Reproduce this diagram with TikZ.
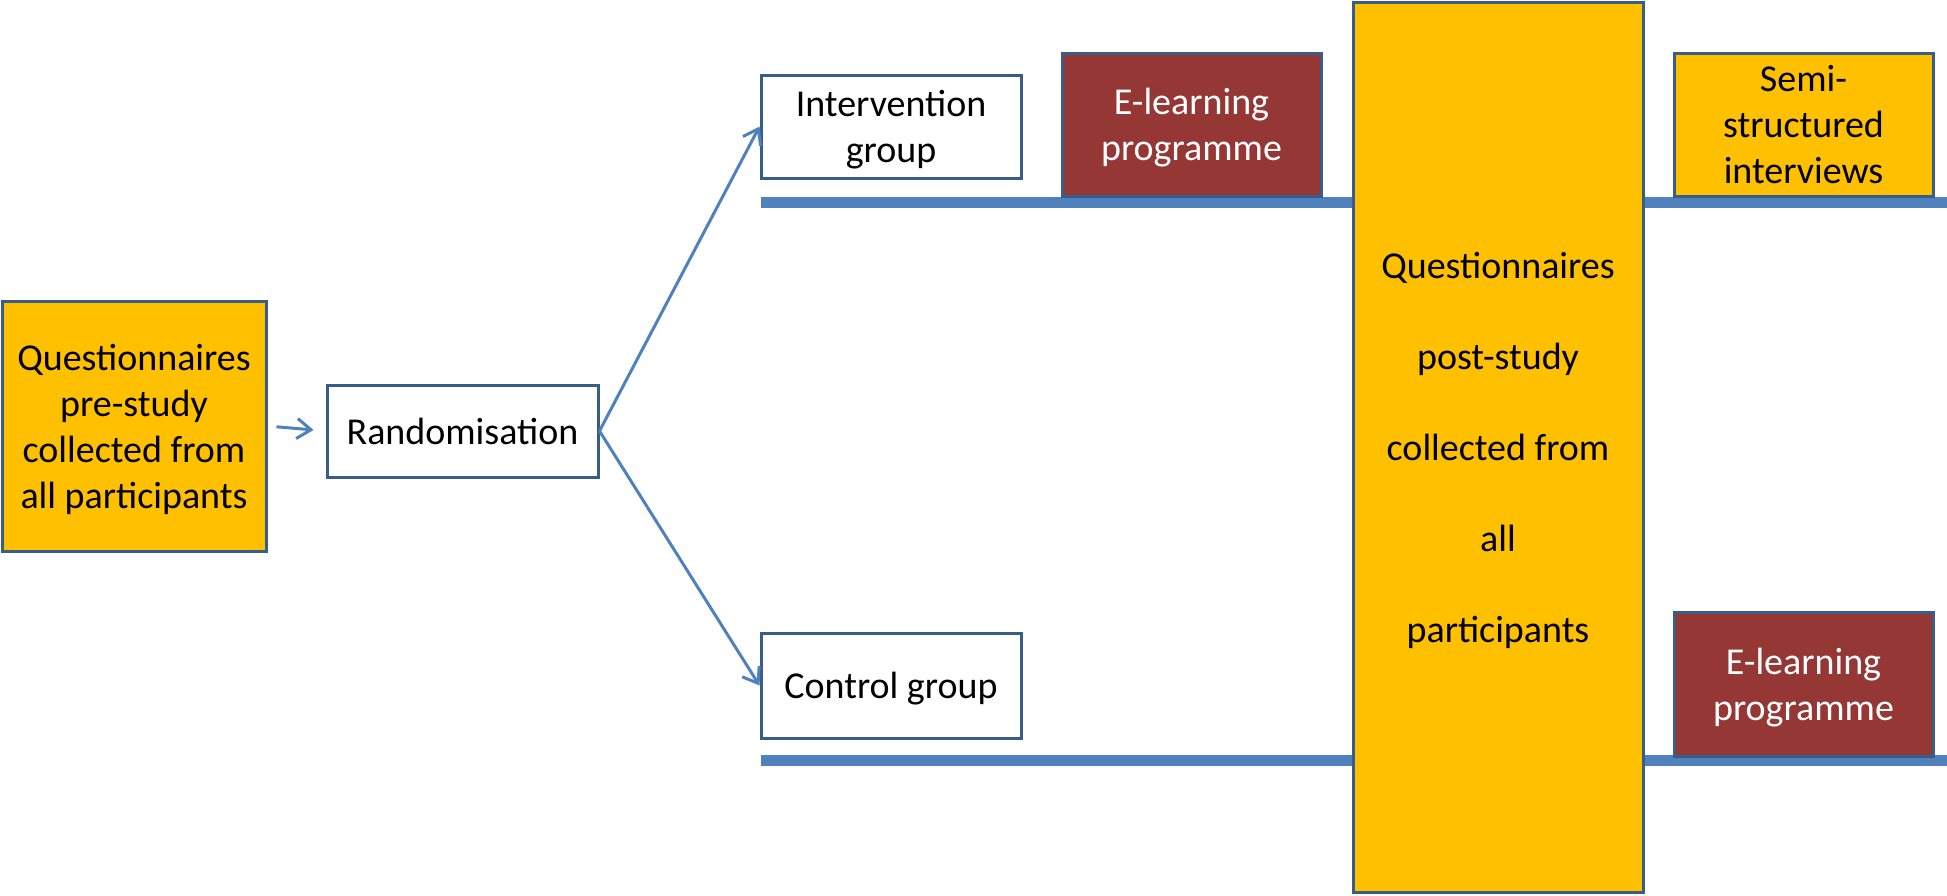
\documentclass[tikz,border=0pt]{standalone}
\usepackage{fontspec}
\setmainfont{Carlito}
\usetikzlibrary{arrows.meta}
\definecolor{gold}{HTML}{FFC000}
\definecolor{wine}{HTML}{953735}
\definecolor{edge}{HTML}{385D8A}
\definecolor{lineblue}{HTML}{4F81BD}
% line strut matching the font's ascent/descent
\newcommand{\lnstrut}{\rule[-10pt]{0pt}{46pt}}
\tikzset{
  box/.style={draw=edge, line width=3pt, inner sep=0pt, align=center,
    font=\fontsize{38}{46}\selectfont},
  goldbox/.style={box, fill=gold},
  winebox/.style={box, fill=wine, text=white},
  whitebox/.style={box, fill=white},
  track/.style={draw=lineblue, line width=11pt},
  link/.style={draw=lineblue, line width=3pt, -{Straight Barb[length=14pt,width=20pt,line width=3pt]}}
}
\begin{document}
\begin{tikzpicture}[x=1pt,y=-1pt]
\useasboundingbox (0,0) rectangle (1947,895);
% timeline tracks
\coordinate (t1s) at (761,202);
\coordinate (t1e) at (1947,202);
\coordinate (t2s) at (761,760);
\coordinate (t2e) at (1947,760);
\draw[track] (t1s) -- (t1e);
\draw[track] (t2s) -- (t2e);
% nodes
\node[goldbox, minimum width=264pt, minimum height=250pt] (pre) at (134,426)
  {\lnstrut Questionnaires\\pre-study\\collected from\\\lnstrut all participants};
\node[whitebox, minimum width=271pt, minimum height=92pt] (rand) at (462.5,431) {\lnstrut Randomisation};
\node[whitebox, minimum width=260pt, minimum height=103pt] (int) at (891,126.5) {\lnstrut Intervention\\\lnstrut group};
\node[winebox, minimum width=259pt, minimum height=143pt] (el1) at (1191.5,124.5) {\lnstrut E-learning\\\lnstrut programme};
\node[goldbox, minimum width=290pt, minimum height=890pt,
  font=\fontsize{38}{91}\selectfont] (post) at (1498,447.5)
  {\lnstrut Questionnaires\\post-study\\collected from\\all\\\lnstrut participants};
\node[goldbox, minimum width=259pt, minimum height=143pt] (semi) at (1803.5,124.5) {\lnstrut Semi-\\structured\\\lnstrut interviews};
\node[whitebox, minimum width=260pt, minimum height=105pt] (ctrl) at (891,685.5) {\lnstrut Control group};
\node[winebox, minimum width=259pt, minimum height=144pt] (el2) at (1803.5,684) {\lnstrut E-learning\\\lnstrut programme};
% connectors
\draw[link, shorten <=9pt, shorten >=12pt] (pre.east) -- (rand.west);
\draw[link] (rand.east) -- (int.west);
\draw[link] (rand.east) -- (ctrl.west);
\end{tikzpicture}
\end{document}
